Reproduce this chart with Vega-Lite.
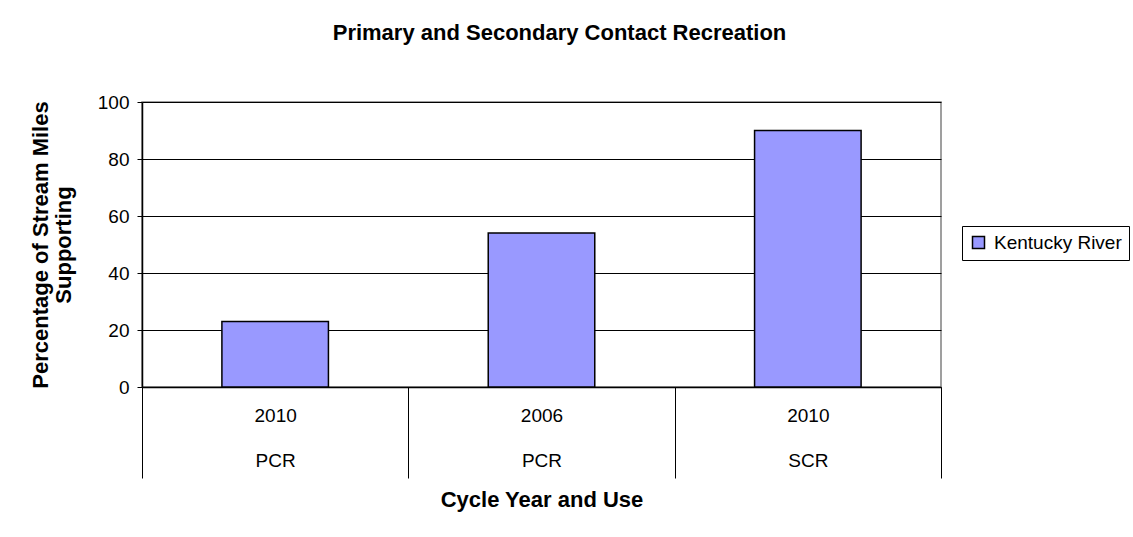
{
  "$schema": "https://vega.github.io/schema/vega-lite/v6.json",
  "width": 799,
  "height": 285,
  "autosize": {"type": "none"},
  "padding": {"left": 142, "top": 102, "right": 192, "bottom": 150},
  "background": "white",
  "config": {
    "font": "Liberation Sans",
    "view": {"stroke": "#808080", "strokeWidth": 1.5}
  },
  "title": {
    "text": "Primary and Secondary Contact Recreation",
    "fontSize": 22,
    "fontWeight": "bold",
    "font": "Liberation Sans",
    "color": "black",
    "anchor": "middle",
    "baseline": "alphabetic",
    "dx": 18,
    "offset": 31
  },
  "data": {
    "values": [
      {"key": "2010 PCR", "cycle": "2010", "use": "PCR", "percent": 23, "series": "Kentucky River"},
      {"key": "2006 PCR", "cycle": "2006", "use": "PCR", "percent": 54, "series": "Kentucky River"},
      {"key": "2010 SCR", "cycle": "2010", "use": "SCR", "percent": 90, "series": "Kentucky River"}
    ]
  },
  "mark": {"type": "bar", "stroke": "black", "strokeWidth": 1.5, "width": {"band": 0.4}},
  "encoding": {
    "x": {
      "field": "key",
      "type": "nominal",
      "sort": null,
      "scale": {"paddingInner": 0, "paddingOuter": 0},
      "axis": {
        "title": "Cycle Year and Use",
        "titleFontSize": 22,
        "titleFontWeight": "bold",
        "titleColor": "black",
        "titlePadding": 11,
        "labelAngle": 0,
        "labelFontSize": 19,
        "labelColor": "black",
        "labelLineHeight": 45,
        "labelPadding": -72,
        "labelBaseline": "top",
        "labelExpr": "isValid(datum.value) ? split(datum.value, ' ') : ''",
        "tickBand": "extent",
        "tickSize": 91,
        "tickColor": "black",
        "tickWidth": 1,
        "domainColor": "black",
        "domainWidth": 1.5,
        "grid": false
      }
    },
    "y": {
      "field": "percent",
      "type": "quantitative",
      "scale": {"domain": [0, 100]},
      "axis": {
        "title": ["Percentage of Stream Miles", "Supporting"],
        "titleFontSize": 22,
        "titleFontWeight": "bold",
        "titleColor": "black",
        "titleLineHeight": 23,
        "titlePadding": 22,
        "values": [0, 20, 40, 60, 80, 100],
        "labelFontSize": 19,
        "labelColor": "black",
        "labelPadding": 8,
        "tickSize": 5,
        "tickColor": "black",
        "domainColor": "black",
        "domainWidth": 1.5,
        "gridColor": "black",
        "gridWidth": 1,
        "gridOpacity": 1
      }
    },
    "color": {
      "field": "series",
      "type": "nominal",
      "scale": {"range": ["#9999FF"]},
      "legend": {
        "orient": "none",
        "legendX": 820,
        "legendY": 124,
        "title": null,
        "labelFontSize": 19,
        "labelColor": "black",
        "labelOffset": 6,
        "symbolType": "square",
        "symbolSize": 144,
        "symbolStrokeColor": "black",
        "symbolStrokeWidth": 1.5,
        "symbolOpacity": 1,
        "strokeColor": "black",
        "fillColor": "white",
        "padding": 7
      }
    }
  }
}
